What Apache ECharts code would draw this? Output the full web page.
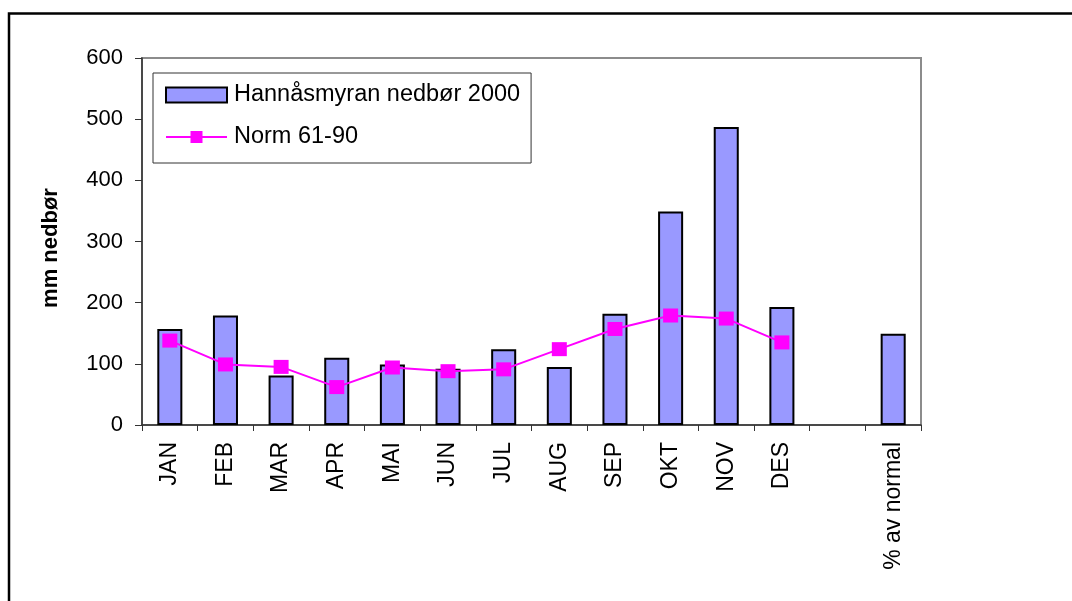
<!DOCTYPE html>
<html>
<head>
<meta charset="utf-8">
<script src="https://cdn.jsdelivr.net/npm/echarts@6/dist/echarts.min.js"></script>
<style>
  html, body { margin: 0; padding: 0; background: #fff; }
  #chart { width: 1072px; height: 601px; }
</style>
</head>
<body>
<div id="chart"></div>
<script>
// months + the extra "% av normal" column (one blank slot in between)
const categories = ['JAN', 'FEB', 'MAR', 'APR', 'MAI', 'JUN', 'JUL', 'AUG', 'SEP', 'OKT', 'NOV', 'DES', '', '% av normal']
const rain2000 = [157, 179, 81, 110, 99, 92, 124, 95, 182, 349, 487, 193, '-', 149]
const norm6190 = [138, 99, 95, 62, 94, 88, 91, 124, 157, 179, 174, 135, '-', '-']
const yTicks = { min: 0, max: 600, interval: 100 }

const FONT = '"Liberation Sans", Arial, sans-serif'

const chart = echarts.init(document.getElementById('chart'), null, { renderer: 'canvas' })

chart.setOption({
  animation: false,
  backgroundColor: '#fff',
  textStyle: { fontFamily: FONT, color: '#000' },
  graphic: [{
    // outer chart frame (runs off the right/bottom edge)
    type: 'rect',
    shape: { x: 9, y: 13.5, width: 1200, height: 800 },
    style: { fill: 'none', stroke: '#000', lineWidth: 2.5 },
    silent: true
  }],
  grid: {
    left: 142, top: 58, right: 151, bottom: 176,
    show: true,
    borderColor: '#8c8c8c',
    borderWidth: 2,
    backgroundColor: '#fff'
  },
  legend: {
    left: 153, top: 73,
    orient: 'vertical',
    itemWidth: 61,
    itemHeight: 15,
    itemGap: 18,
    padding: [10, 11, 14, 12],
    borderColor: '#333',
    borderWidth: 1,
    backgroundColor: '#fff',
    textStyle: { fontFamily: FONT, fontSize: 23.5, color: '#000', padding: [0, 0, 0, 2] },
    data: [
      { name: 'Hannåsmyran nedbør 2000', icon: 'rect' },
      { name: 'Norm 61-90' }
    ]
  },
  xAxis: {
    type: 'category',
    data: categories,
    boundaryGap: true,
    axisLine: { lineStyle: { color: '#333', width: 1.5 } },
    axisTick: { show: true, length: 6, lineStyle: { color: '#333' } },
    axisLabel: {
      interval: 0,
      rotate: 90,
      margin: 17,
      fontFamily: FONT,
      fontSize: 23,
      color: '#000'
    }
  },
  yAxis: {
    type: 'value',
    min: yTicks.min,
    max: yTicks.max,
    interval: yTicks.interval,
    name: 'mm nedbør',
    nameLocation: 'middle',
    nameRotate: 90,
    nameGap: 80,
    nameTextStyle: { fontFamily: FONT, fontSize: 22, fontWeight: 'bold', color: '#000', padding: [0, 13, 0, 0] },
    splitLine: { show: false },
    axisLine: { show: true, lineStyle: { color: '#333', width: 1.5 } },
    axisTick: { show: true, length: 7, lineStyle: { color: '#333' } },
    axisLabel: { margin: 19, fontFamily: FONT, fontSize: 22, color: '#000' }
  },
  series: [
    {
      name: 'Hannåsmyran nedbør 2000',
      type: 'bar',
      data: rain2000,
      barWidth: '45%',
      itemStyle: { color: '#9999ff', borderColor: '#000', borderWidth: 2 }
    },
    {
      name: 'Norm 61-90',
      type: 'line',
      data: norm6190,
      symbol: 'rect',
      symbolSize: [15, 14],
      lineStyle: { color: '#ff00ff', width: 2 },
      itemStyle: { color: '#ff00ff' }
    }
  ]
})

window.addEventListener('resize', () => chart.resize())
</script>
</body>
</html>
